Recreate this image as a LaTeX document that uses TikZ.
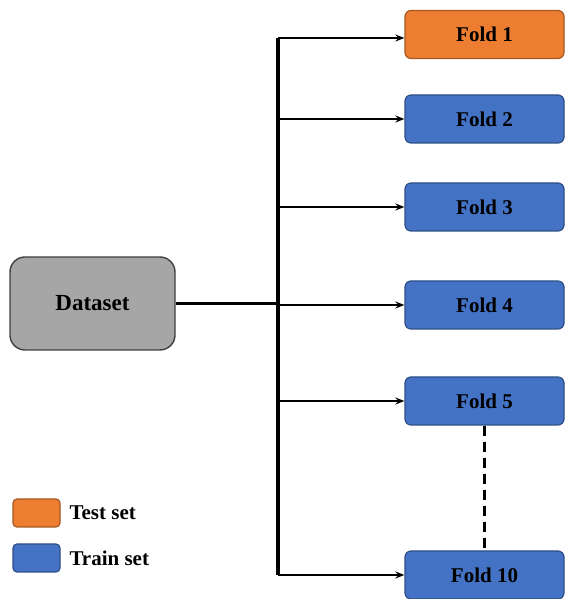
\documentclass[tikz,border=0pt]{standalone}
\usepackage{fontspec}
\setmainfont{Liberation Serif}
\usetikzlibrary{arrows.meta}
\definecolor{foldorange}{HTML}{ED7D31}
\definecolor{foldblue}{HTML}{4472C4}
\definecolor{dataGray}{HTML}{A6A6A6}
\tikzset{
  fold/.style={draw=#1!70!black, fill=#1, rounded corners=6pt, line width=1.2pt,
    minimum width=159pt, minimum height=48pt, font=\fontsize{21}{25}\selectfont\bfseries},
  key/.style={draw=#1!70!black, fill=#1, rounded corners=4pt, line width=1.2pt,
    minimum width=47pt, minimum height=28pt},
  feed/.style={-{Stealth[length=9pt,width=7pt]}, line width=2.2pt}
}
\begin{document}
\begin{tikzpicture}[x=1pt,y=1pt]
      \useasboundingbox (0,0) rectangle (565,599);
      % dataset and folds
      \node[draw=black!75, fill=dataGray, rounded corners=15pt, line width=1.4pt,
        minimum width=165pt, minimum height=93pt,
        font=\fontsize{23}{27}\selectfont\bfseries] (data) at (92.5,295.5) {Dataset};
      \node[fold=foldorange] (f1) at (484.5,564.5) {Fold 1};
      \node[fold=foldblue] (f2) at (484.5,480) {Fold 2};
      \node[fold=foldblue] (f3) at (484.5,392) {Fold 3};
      \node[fold=foldblue] (f4) at (484.5,294) {Fold 4};
      \node[fold=foldblue] (f5) at (484.5,198) {Fold 5};
      \node[fold=foldblue] (f10) at (484.5,24) {Fold 10};
      \coordinate (top) at (278,561);
      \coordinate (bot) at (278,24);
      % trunk and branches
      \draw[line width=3.4pt] (top) -- (bot);
      \draw[line width=2.2pt] (data.east) -- (data.east -| top);
      \draw[feed] (top) -- (top -| f1.west);
      \foreach \f in {f2,f3,f4,f5,f10}
        \draw[feed] (\f.west -| top) -- (\f.west);
      \draw[dashed, dash pattern=on 10pt off 6pt, line width=2.6pt] (f5.south) -- (f10.north);
      % legend
      \node[key=foldorange] (ktest) at (36.5,86) {};
      \node[key=foldblue] (ktrain) at (36.5,41) {};
      \node[anchor=west, font=\fontsize{21}{25}\selectfont\bfseries] (ltest) at (66,86) {Test set};
      \node[anchor=west, font=\fontsize{21}{25}\selectfont\bfseries] (ltrain) at (66,41) {Train set};
    \end{tikzpicture}
\end{document}
